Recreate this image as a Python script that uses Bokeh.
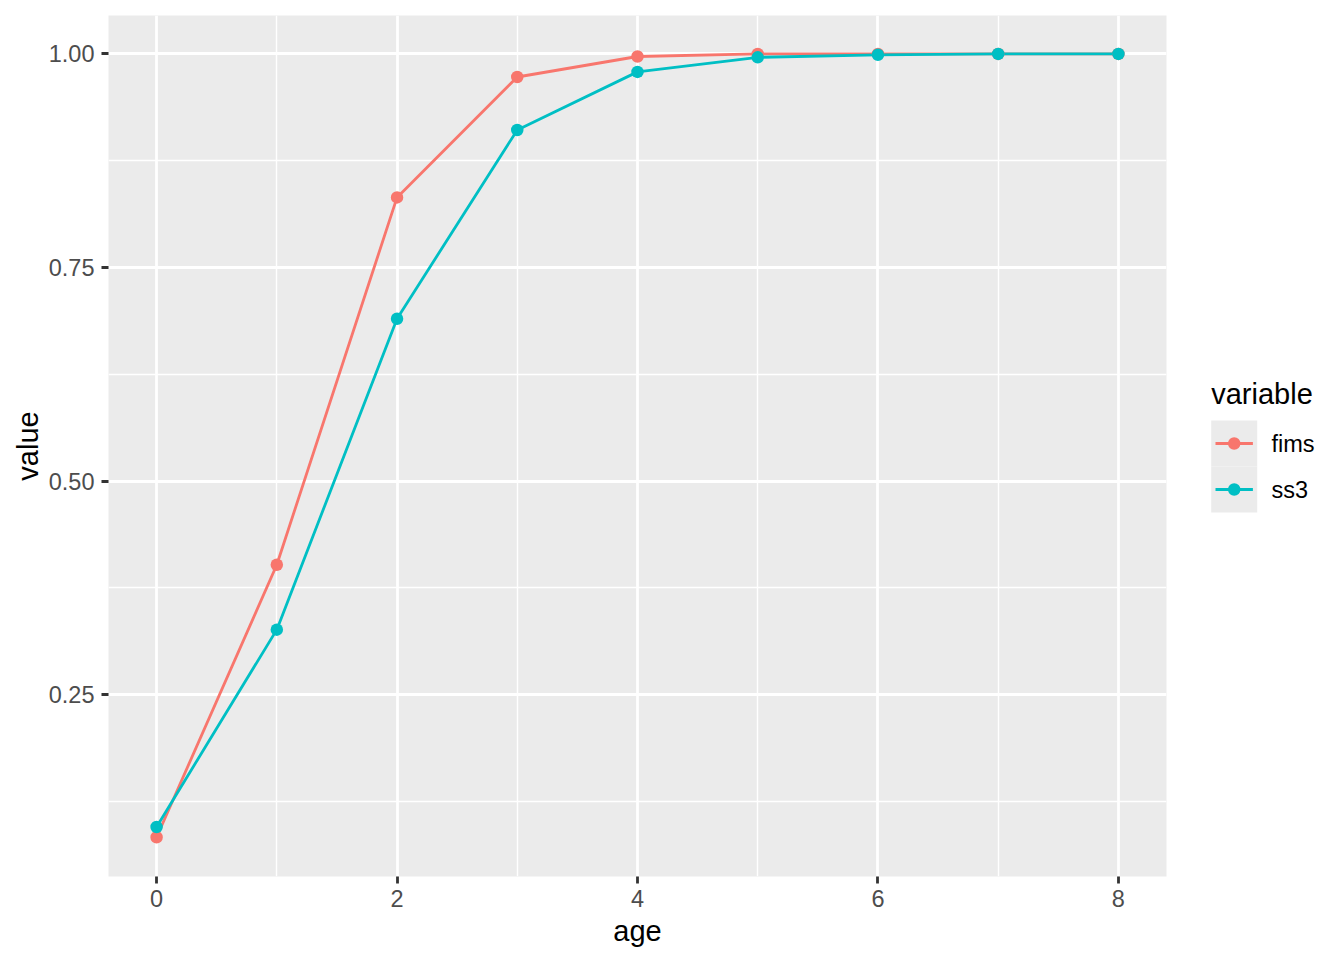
from bokeh.plotting import figure
from bokeh.layouts import row
from bokeh.models import Range1d, FixedTicker, ColumnDataSource
from bokeh.core.properties import value
from bokeh.embed import file_html
from bokeh.resources import INLINE

# ---- data ----
ages = [0, 1, 2, 3, 4, 5, 6, 7, 8]
fims = [0.083, 0.402, 0.832, 0.973, 0.997, 1.0, 1.0, 1.0, 1.0]
ss3 = [0.095, 0.326, 0.690, 0.911, 0.979, 0.996, 0.999, 1.0, 1.0]
series_names = ["fims", "ss3"]
series_colors = ["#F8766D", "#00BFC4"]
x_ticks = [0, 2, 4, 6, 8]
x_minor = [1, 3, 5, 7]
y_ticks = [0.25, 0.50, 0.75, 1.00]
y_minor = [0.125, 0.375, 0.625, 0.875]
y_tick_labels = {0.25: "0.25", 0.5: "0.50", 0.75: "0.75", 1.0: "1.00"}
legend_title = "variable"

FONT = "Liberation Sans"
PANEL = "#EBEBEB"
W_MAIN, H = 1176, 960
B_TOP, B_BOTTOM = 15, 84

p = figure(width=W_MAIN, height=H, output_backend="svg", toolbar_location=None,
           x_range=Range1d(-0.4, 8.4), y_range=Range1d(0.037, 1.045),
           min_border_left=108, min_border_top=B_TOP, min_border_bottom=B_BOTTOM, min_border_right=10)
p.background_fill_color = PANEL
p.border_fill_color = "white"
p.outline_line_color = None

p.xaxis.ticker = FixedTicker(ticks=x_ticks, minor_ticks=x_minor)
p.yaxis.ticker = FixedTicker(ticks=y_ticks, minor_ticks=y_minor)
p.yaxis.major_label_overrides = y_tick_labels

for ax in (p.xaxis, p.yaxis):
    ax.axis_line_color = None
    ax.major_tick_line_color = "#333333"
    ax.major_tick_line_width = 2.8
    ax.major_tick_out = 7
    ax.major_tick_in = 0
    ax.minor_tick_line_color = None
    ax.major_label_text_font = FONT
    ax.major_label_text_font_size = "23.5px"
    ax.major_label_text_color = "#4D4D4D"
    ax.axis_label_text_font = FONT
    ax.axis_label_text_font_size = "29px"
    ax.axis_label_text_color = "black"
    ax.axis_label_text_font_style = "normal"

p.xaxis.axis_label = "age"
p.yaxis.axis_label = "value"
p.xaxis.major_label_standoff = 6
p.yaxis.major_label_standoff = 7
p.xaxis.axis_label_standoff = 5
p.yaxis.axis_label_standoff = 2

for g in (p.xgrid, p.ygrid):
    g.grid_line_color = "white"
    g.grid_line_width = 2.8
    g.minor_grid_line_color = "white"
    g.minor_grid_line_width = 1.4

sources = [ColumnDataSource(dict(x=ages, y=v)) for v in (fims, ss3)]
for s, c in zip(sources, series_colors):
    p.line("x", "y", source=s, line_color=c, line_width=2.8)
for s, c in zip(sources, series_colors):
    p.scatter("x", "y", source=s, size=12.5, fill_color=c, line_color=c, line_width=0)

# ---- legend panel: a second figure whose data units are page pixels (y downwards) ----
W_LEG = 1344 - W_MAIN
lg = figure(width=W_LEG, height=H, output_backend="svg", toolbar_location=None,
            x_range=Range1d(W_MAIN, 1344), y_range=Range1d(H - B_BOTTOM, B_TOP),
            min_border_left=0, min_border_right=0, min_border_top=B_TOP, min_border_bottom=B_BOTTOM,
            x_axis_type=None, y_axis_type=None)
lg.outline_line_color = None
lg.background_fill_color = "white"
lg.border_fill_color = "white"
lg.xgrid.grid_line_color = None
lg.ygrid.grid_line_color = None

key_x0, key_w, key_top = 1210.7, 46, 420
key_cy = [key_top + key_w * (i + 0.5) for i in range(len(series_names))]
key_cx = key_x0 + key_w / 2

lg.text(x=[key_x0], y=[393], text=[legend_title], text_font=value(FONT), text_font_size="29px",
        text_color="black", text_baseline="alphabetic", text_align="left")
lg.rect(x=[key_cx] * len(key_cy), y=key_cy, width=key_w, height=key_w,
        fill_color=PANEL, line_color=None)
for cy, name, col in zip(key_cy, series_names, series_colors):
    lg.line(x=[key_x0 + 4.3, key_x0 + key_w - 4.3], y=[cy, cy], line_color=col, line_width=2.8)
    lg.scatter(x=[key_cx], y=[cy], size=12.5, fill_color=col, line_color=col, line_width=0)
    lg.text(x=[1271], y=[cy + 0.5], text=[name], text_font=value(FONT), text_font_size="23.5px",
            text_color="black", text_baseline="alphabetic", text_align="left")

layout = row(p, lg, spacing=0)
open("out.html", "w").write(file_html(layout, INLINE))
